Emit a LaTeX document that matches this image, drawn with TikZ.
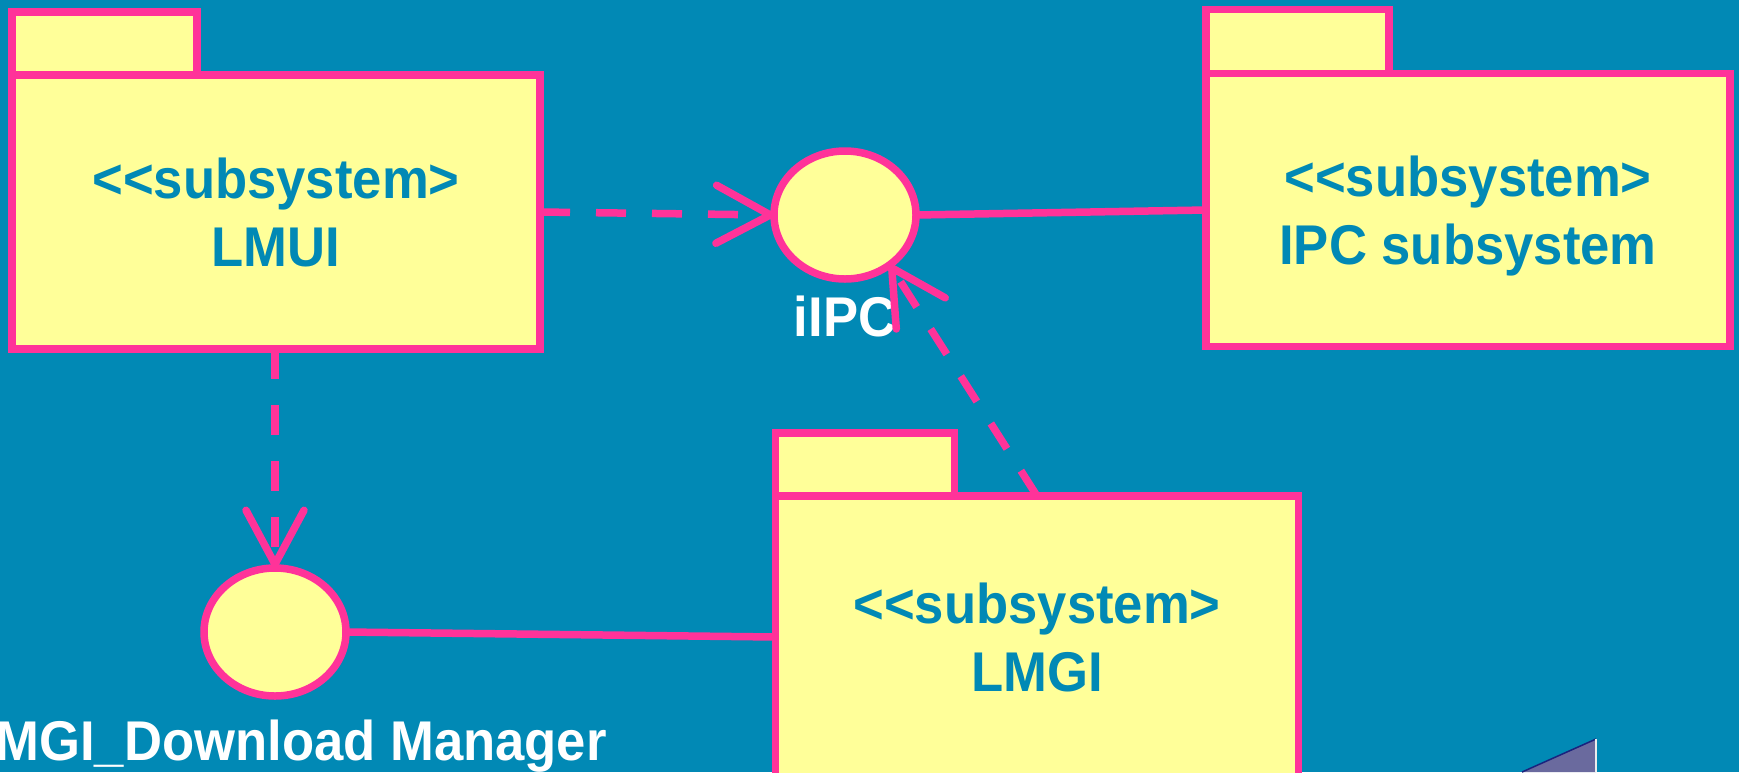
\documentclass[tikz,border=0pt]{standalone}
\usepackage{fontspec}
\setmainfont{Liberation Sans}[FakeStretch=0.94]
\usetikzlibrary{shapes.geometric, arrows.meta, positioning}
\definecolor{slideblue}{HTML}{0189B5}
\definecolor{umlpink}{HTML}{FF3399}
\definecolor{umlyellow}{HTML}{FFFF99}
\definecolor{cornerblue}{HTML}{6A6A9E}
\definecolor{cornernavy}{HTML}{1A237E}
\newcommand{\stereo}[1]{<\kern0pt<#1>}

\begin{document}
\begin{tikzpicture}[x=1pt, y=-1pt,
      pkg/.style={draw=umlpink, line width=7.5pt, fill=umlyellow, rectangle, outer sep=0pt,
                  inner sep=0pt, align=center, text=slideblue, text depth=0pt,
                  font=\fontsize{56}{68}\selectfont\bfseries},
      pkgtab/.style={draw=umlpink, line width=7.5pt, fill=umlyellow, rectangle, outer sep=0pt,
                     inner sep=0pt, anchor=south west},
      iface/.style={draw=umlpink, line width=7.5pt, fill=umlyellow, ellipse, outer sep=0pt,
                    minimum width=142pt, minimum height=128pt, inner sep=0pt},
      ifacelabel/.style={text=white, inner sep=0pt, font=\fontsize{56}{68}\selectfont\bfseries},
      dep/.style={umlpink, line width=7.5pt, dash pattern=on 30pt off 26pt,
                  -{Straight Barb[length=54pt, width=58pt, round]}},
      conn/.style={umlpink, line width=7.5pt}
    ]
    \useasboundingbox (0,0) rectangle (1739,772);
    \fill[slideblue] (0,0) rectangle (1739,772);

    % Pakete
    \node[pkg, minimum width=528pt, minimum height=274pt] (lmui) at (276,212) {\stereo{subsystem}\\LMUI};
    \node[pkgtab, minimum width=185pt, minimum height=63pt] (lmuitab) at (lmui.north west) {};
    \node[pkg, minimum width=524pt, minimum height=273pt] (ipc) at (1468,210) {\stereo{subsystem}\\IPC subsystem};
    \node[pkgtab, minimum width=183pt, minimum height=64pt] (ipctab) at (ipc.north west) {};
    \node[pkg, minimum width=523pt, minimum height=282pt] (lmgi) at (1037,637) {\stereo{subsystem}\\LMGI};
    \node[pkgtab, minimum width=179pt, minimum height=63pt] (lmgitab) at (lmgi.north west) {};

    % Schnittstellen
    \node[iface] (iipc) at (845,215) {};
    \node[ifacelabel, below=17pt of iipc] (iipclabel) {iIPC};
    \node[iface] (dlm) at (275,632) {};
    \node[ifacelabel, below=24pt of dlm, xshift=10pt] (dlmlabel) {LMGI\_Download Manager};

    % Verbindungen
    \draw[dep] (lmui.east) -- (iipc.west);
    \draw[dep] (lmui.south -| dlm.north) -- (dlm.north);
    \draw[dep] (lmgi.north) -- (iipc.-48);
    \draw[conn] (iipc.east) -- (ipc.west);
    \draw[conn] (dlm.east) -- (lmgi.west);

    % Ecke unten rechts
    \fill[cornerblue] (1596,739) -- (1596,772) -- (1522,772) -- cycle;
    \draw[cornernavy, line width=1.5pt] (1522,772) -- (1596,739);
    \draw[white!85!gray, line width=1.5pt] (1596,739) -- (1596,772);
  \end{tikzpicture}
\end{document}
